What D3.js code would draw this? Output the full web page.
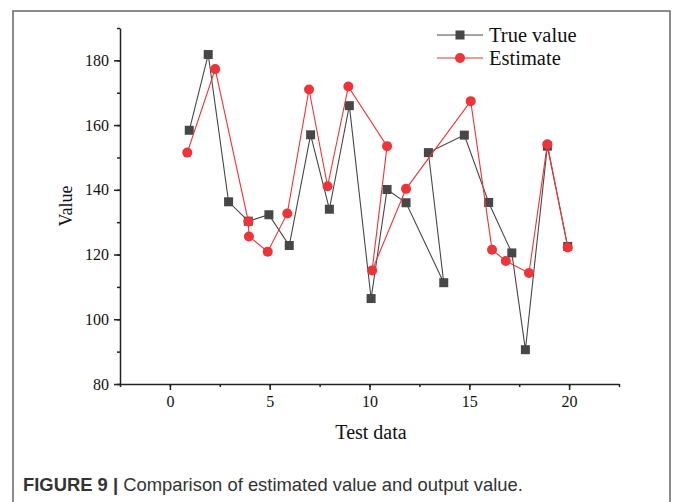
<!DOCTYPE html>
<html>
<head>
<meta charset="utf-8">
<title>Figure 9</title>
<script src="https://d3js.org/d3.v7.min.js"></script>
<style>
    body { margin: 0; background: #fff; }
    svg { display: block; }
    .axis path.domain, .axis line { stroke: #222; stroke-width: 1.5; }
    .axis text { font-family: "Liberation Serif", "Times New Roman", serif; font-size: 16px; fill: #111; }
    .lbl { font-family: "Liberation Serif", "Times New Roman", serif; fill: #111; }
    .cap { font-family: "Liberation Sans", Arial, sans-serif; font-size: 18.4px; fill: #333; }
</style>
</head>
<body>
<svg id="chart" width="673" height="502"></svg>
<script>
// values
const seriesNames = ['True value', 'Estimate'];
const trueX = [0.97, 1.92, 2.94, 3.93, 4.96, 5.98, 7.05, 7.99, 8.99, 10.08, 10.88, 11.83, 13.72, 12.95, 14.75, 15.97, 17.13, 17.81, 18.91, 19.93];
const trueY = [158.4, 181.8, 136.3, 130.3, 132.3, 122.8, 157.0, 134.0, 166.0, 106.4, 140.1, 136.0, 111.3, 151.5, 156.9, 136.1, 120.5, 90.6, 153.5, 122.5];
const estX = [0.87, 2.27, 3.93, 3.96, 4.90, 5.88, 6.97, 7.90, 8.94, 10.88, 10.13, 11.83, 15.07, 16.14, 16.83, 17.99, 18.91, 19.93];
const estY = [151.5, 177.3, 130.2, 125.6, 120.9, 132.7, 171.0, 141.1, 171.9, 153.5, 115.1, 140.3, 167.4, 121.5, 118.0, 114.3, 154.1, 122.2];
const xTicks = [0, 5, 10, 15, 20];
const yTicks = [80, 100, 120, 140, 160, 180];

let svg = d3.select('#chart');

// frame around the figure
svg.append('rect')
    .attr('x', 13).attr('y', 11)
    .attr('width', 657).attr('height', 500)
    .attr('fill', 'none').attr('stroke', '#666').attr('stroke-width', 1.5);

let mLeft = 120, mRight = 619, mTop = 28, mBottom = 384;

let x = d3.scaleLinear().domain([-2.5, 22.5]).range([mLeft, mRight]);
let y = d3.scaleLinear().domain([80, 190]).range([mBottom, mTop]);

// minor ticks first
svg.append('g').attr('class', 'axis')
    .attr('transform', 'translate(0,' + mBottom + ')')
    .call(d3.axisBottom(x).tickValues(d3.range(-2.5, 22.6, 2.5)).tickSize(3).tickFormat(''))
    .select('path.domain').remove();
svg.append('g').attr('class', 'axis')
    .attr('transform', 'translate(' + mLeft + ',0)')
    .call(d3.axisLeft(y).tickValues(d3.range(80, 191, 10)).tickSize(3).tickFormat(''))
    .select('path.domain').remove();

let xAxis = svg.append('g').attr('class', 'axis')
    .attr('transform', 'translate(0,' + mBottom + ')')
    .call(d3.axisBottom(x).tickValues(xTicks).tickSize(6).tickSizeOuter(0).tickPadding(6));
let yAxis = svg.append('g').attr('class', 'axis')
    .attr('transform', 'translate(' + mLeft + ',0)')
    .call(d3.axisLeft(y).tickValues(yTicks).tickSize(6).tickSizeOuter(0).tickPadding(5));

svg.append('text').attr('class', 'lbl')
    .attr('x', 371).attr('y', 439)
    .attr('text-anchor', 'middle').style('font-size', '20px')
    .text('Test data');
svg.append('text').attr('class', 'lbl')
    .attr('transform', 'translate(72,206) rotate(-90)')
    .attr('text-anchor', 'middle').style('font-size', '18px')
    .text('Value');

let trueData = trueX.map((v, i) => [v, trueY[i]]);
let estData = estX.map((v, i) => [v, estY[i]]);

let line = d3.line().x(d => x(d[0])).y(d => y(d[1]));

const greyCol = '#474747', redCol = '#ee3339';

svg.append('path').datum(trueData)
    .attr('d', line).attr('fill', 'none')
    .attr('stroke', greyCol).attr('stroke-width', 1.1);
svg.append('g').selectAll('rect').data(trueData).join('rect')
    .attr('x', d => x(d[0]) - 4.5).attr('y', d => y(d[1]) - 4.5)
    .attr('width', 9).attr('height', 9)
    .attr('fill', greyCol);

svg.append('path').datum(estData)
    .attr('d', line).attr('fill', 'none')
    .attr('stroke', redCol).attr('stroke-width', 1.1);
svg.append('g').selectAll('circle').data(estData).join('circle')
    .attr('cx', d => x(d[0])).attr('cy', d => y(d[1]))
    .attr('r', 5).attr('fill', redCol);

// legend
let legend = svg.append('g');
seriesNames.forEach(function(name, i) {
    let ly = 35 + i * 23;
    let col = i == 0 ? greyCol : redCol;
    legend.append('line')
        .attr('x1', 437).attr('x2', 483).attr('y1', ly).attr('y2', ly)
        .attr('stroke', col).attr('stroke-width', 1.1);
    if (i == 0) {
        legend.append('rect').attr('x', 460 - 4.5).attr('y', ly - 4.5)
            .attr('width', 9).attr('height', 9).attr('fill', col);
    } else {
        legend.append('circle').attr('cx', 460).attr('cy', ly).attr('r', 5).attr('fill', col);
    }
    legend.append('text').attr('class', 'lbl')
        .attr('x', 489).attr('y', ly + 7)
        .style('font-size', '20.5px')
        .text(name);
});

// caption
let cap = svg.append('text').attr('class', 'cap').attr('x', 23).attr('y', 491);
cap.append('tspan').style('font-weight', 'bold').attr('fill', '#333').text('FIGURE 9 | ');
cap.append('tspan').text('Comparison of estimated value and output value.');
</script>
</body>
</html>
